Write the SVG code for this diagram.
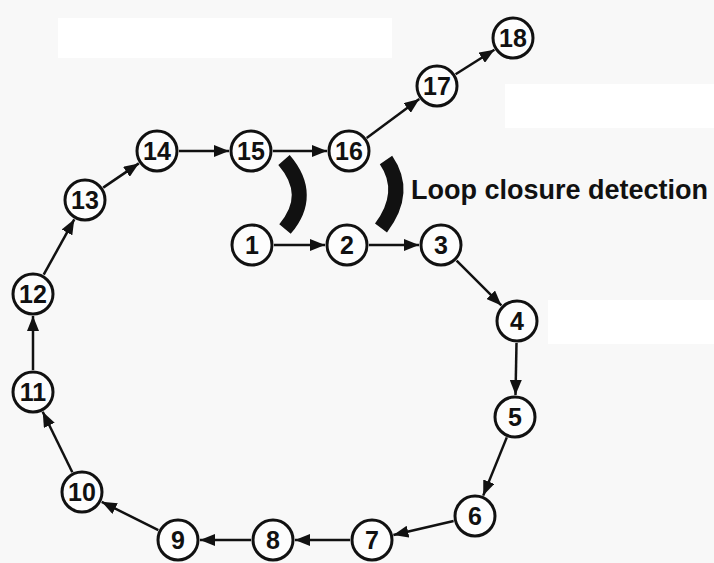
<svg xmlns="http://www.w3.org/2000/svg" width="714" height="563" viewBox="0 0 714 563">
<style>
.n circle{fill:#fdfdfd;stroke:#111;stroke-width:3}
.n text{font-family:"Liberation Sans",Arial,sans-serif;font-weight:bold;font-size:25px;fill:#111;text-anchor:middle}
.e line{stroke:#111;stroke-width:2.5;marker-end:url(#ah)}
.br{fill:none;stroke:#111;stroke-width:15}
.lbl{font-family:"Liberation Sans",Arial,sans-serif;font-weight:bold;font-size:27px;fill:#111}
</style>
<defs>
<marker id="ah" markerUnits="userSpaceOnUse" markerWidth="16" markerHeight="12" refX="15" refY="6" orient="auto">
<path d="M0,0 L15,6 L0,12 z" fill="#111"/>
</marker>
</defs>
<rect x="0" y="0" width="714" height="563" fill="#f8f8f8"/>
<rect x="58" y="18" width="334" height="40" fill="#ffffff"/>
<rect x="505" y="84" width="209" height="44" fill="#ffffff"/>
<rect x="548" y="300" width="166" height="44" fill="#ffffff"/>
<g id="connectors" class="e">
<line x1="274" y1="245" x2="325" y2="245"/>
<line x1="369" y1="245" x2="419" y2="245"/>
<line x1="456.6" y1="260.6" x2="501.4" y2="305.4"/>
<line x1="516.5" y1="343" x2="515.5" y2="395"/>
<line x1="506.8" y1="437.4" x2="483.2" y2="495.6"/>
<line x1="453.6" y1="521" x2="393.4" y2="535"/>
<line x1="350" y1="540" x2="295" y2="540"/>
<line x1="251" y1="540" x2="200" y2="540"/>
<line x1="158.3" y1="530.2" x2="101.7" y2="501.8"/>
<line x1="72.3" y1="472.2" x2="42.7" y2="411.8"/>
<line x1="33" y1="370" x2="33" y2="316"/>
<line x1="43.7" y1="274.7" x2="74.3" y2="219.3"/>
<line x1="103.2" y1="187.6" x2="138.8" y2="163.4"/>
<line x1="179" y1="151" x2="229" y2="151"/>
<line x1="273" y1="151" x2="327" y2="151"/>
<line x1="366.7" y1="137.9" x2="419.3" y2="99.1"/>
<line x1="455.6" y1="74.3" x2="494.4" y2="49.7"/>
</g>
<g id="loop-closure">
<path class="br" d="M284,160 Q314,195 285,229"/>
<path class="br" d="M386,160 Q408,192 381,228"/>
<text class="lbl" x="411" y="199">Loop closure detection</text>
</g>
<g id="n1" class="n"><circle cx="252" cy="245" r="20"/><text x="252" y="254">1</text></g>
<g id="n2" class="n"><circle cx="347" cy="245" r="20"/><text x="347" y="254">2</text></g>
<g id="n3" class="n"><circle cx="441" cy="245" r="20"/><text x="441" y="254">3</text></g>
<g id="n4" class="n"><circle cx="517" cy="321" r="20"/><text x="517" y="330">4</text></g>
<g id="n5" class="n"><circle cx="515" cy="417" r="20"/><text x="515" y="426">5</text></g>
<g id="n6" class="n"><circle cx="475" cy="516" r="20"/><text x="475" y="525">6</text></g>
<g id="n7" class="n"><circle cx="372" cy="540" r="20"/><text x="372" y="549">7</text></g>
<g id="n8" class="n"><circle cx="273" cy="540" r="20"/><text x="273" y="549">8</text></g>
<g id="n9" class="n"><circle cx="178" cy="540" r="20"/><text x="178" y="549">9</text></g>
<g id="n10" class="n"><circle cx="82" cy="492" r="20"/><text x="82" y="501">10</text></g>
<g id="n11" class="n"><circle cx="33" cy="392" r="20"/><text x="33" y="401">11</text></g>
<g id="n12" class="n"><circle cx="33" cy="294" r="20"/><text x="33" y="303">12</text></g>
<g id="n13" class="n"><circle cx="85" cy="200" r="20"/><text x="85" y="209">13</text></g>
<g id="n14" class="n"><circle cx="157" cy="151" r="20"/><text x="157" y="160">14</text></g>
<g id="n15" class="n"><circle cx="251" cy="151" r="20"/><text x="251" y="160">15</text></g>
<g id="n16" class="n"><circle cx="349" cy="151" r="20"/><text x="349" y="160">16</text></g>
<g id="n17" class="n"><circle cx="437" cy="86" r="20"/><text x="437" y="95">17</text></g>
<g id="n18" class="n"><circle cx="513" cy="38" r="20"/><text x="513" y="47">18</text></g>
</svg>
